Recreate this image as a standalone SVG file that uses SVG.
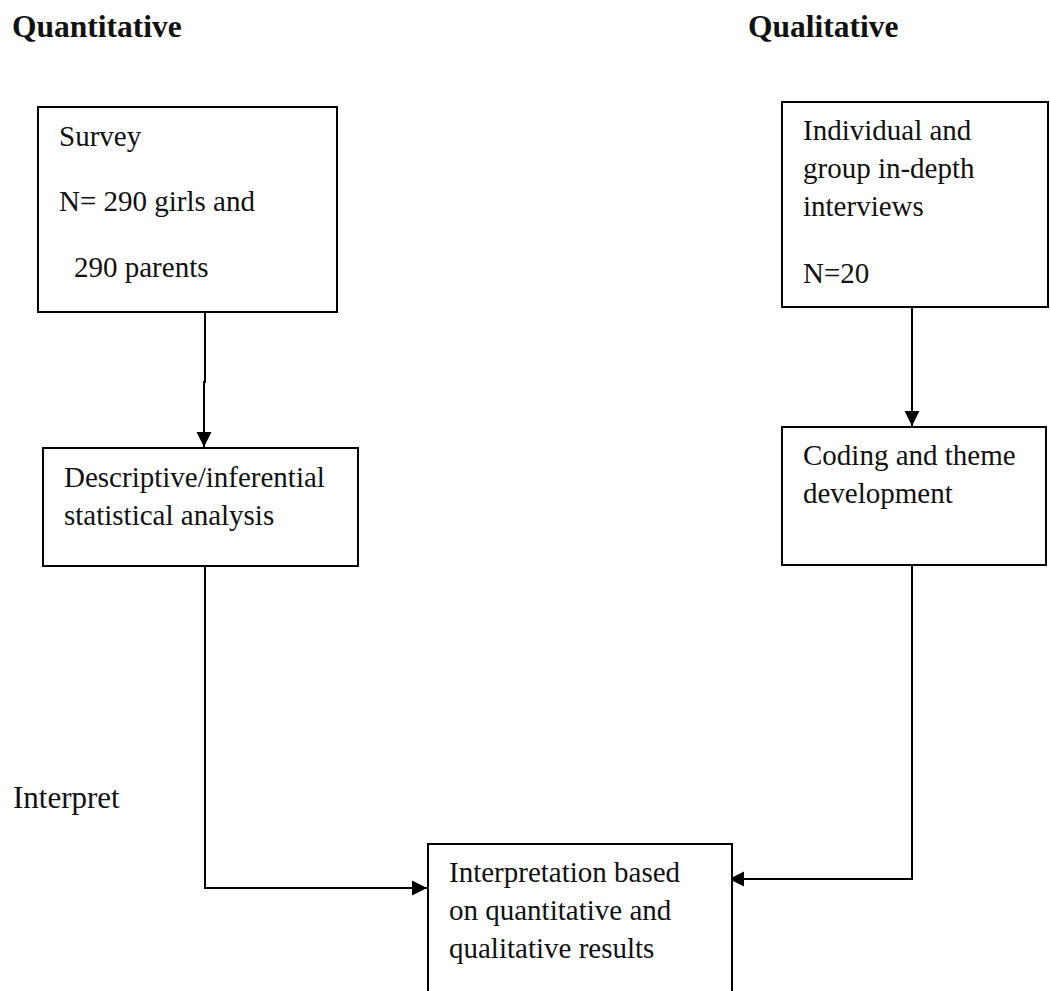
<svg xmlns="http://www.w3.org/2000/svg" width="1050" height="991" viewBox="0 0 1050 991">
  <style>
    .box { fill: #ffffff; stroke: #000000; stroke-width: 2; }
    .txt { font-family: "Liberation Serif", "Times New Roman", serif; font-size: 29px; fill: #111111; }
    .title { font-family: "Liberation Serif", "Times New Roman", serif; font-size: 31.5px; font-weight: bold; fill: #111111; }
    .conn { fill: none; stroke: #000000; stroke-width: 2; }
  </style>
  <defs>
    <marker id="arrow" markerUnits="userSpaceOnUse" markerWidth="16" markerHeight="16" viewBox="0 0 16 16" refX="15" refY="8" orient="auto">
      <path d="M0,0.5 L15,8 L0,15.5 Z" fill="#000000"/>
    </marker>
  </defs>
  <rect width="1050" height="991" fill="#ffffff"/>

  <text class="title" x="12" y="37">Quantitative</text>
  <text class="title" x="748" y="37">Qualitative</text>
  <text class="txt" x="13" y="808" style="font-size:31px">Interpret</text>

  <g id="connectors">
    <path class="conn" d="M205,312 V382 H204 V447" marker-end="url(#arrow)"/>
    <path class="conn" d="M912,307 V426" marker-end="url(#arrow)"/>
    <path class="conn" d="M205,566 V888 H427" marker-end="url(#arrow)"/>
    <path class="conn" d="M912,565 V879 H729" marker-end="url(#arrow)"/>
  </g>

  <g id="survey">
    <rect class="box" x="38" y="107" width="299" height="205"/>
    <text class="txt" x="59" y="146">Survey</text>
    <text class="txt" x="59" y="211">N= 290 girls and</text>
    <text class="txt" x="74" y="277">290 parents</text>
  </g>

  <g id="interviews">
    <rect class="box" x="782" y="102" width="266" height="205"/>
    <text class="txt" x="803" y="140">Individual and</text>
    <text class="txt" x="803" y="178">group in-depth</text>
    <text class="txt" x="803" y="216">interviews</text>
    <text class="txt" x="803" y="283">N=20</text>
  </g>

  <g id="descriptive">
    <rect class="box" x="43" y="448" width="315" height="118"/>
    <text class="txt" x="64" y="487">Descriptive/inferential</text>
    <text class="txt" x="64" y="525">statistical analysis</text>
  </g>

  <g id="coding">
    <rect class="box" x="782" y="427" width="264" height="138"/>
    <text class="txt" x="803" y="465">Coding and theme</text>
    <text class="txt" x="803" y="503">development</text>
  </g>

  <g id="interpretation">
    <rect class="box" x="428" y="844" width="304" height="160"/>
    <text class="txt" x="449" y="882">Interpretation based</text>
    <text class="txt" x="449" y="920">on quantitative and</text>
    <text class="txt" x="449" y="958">qualitative results</text>
  </g>
</svg>
